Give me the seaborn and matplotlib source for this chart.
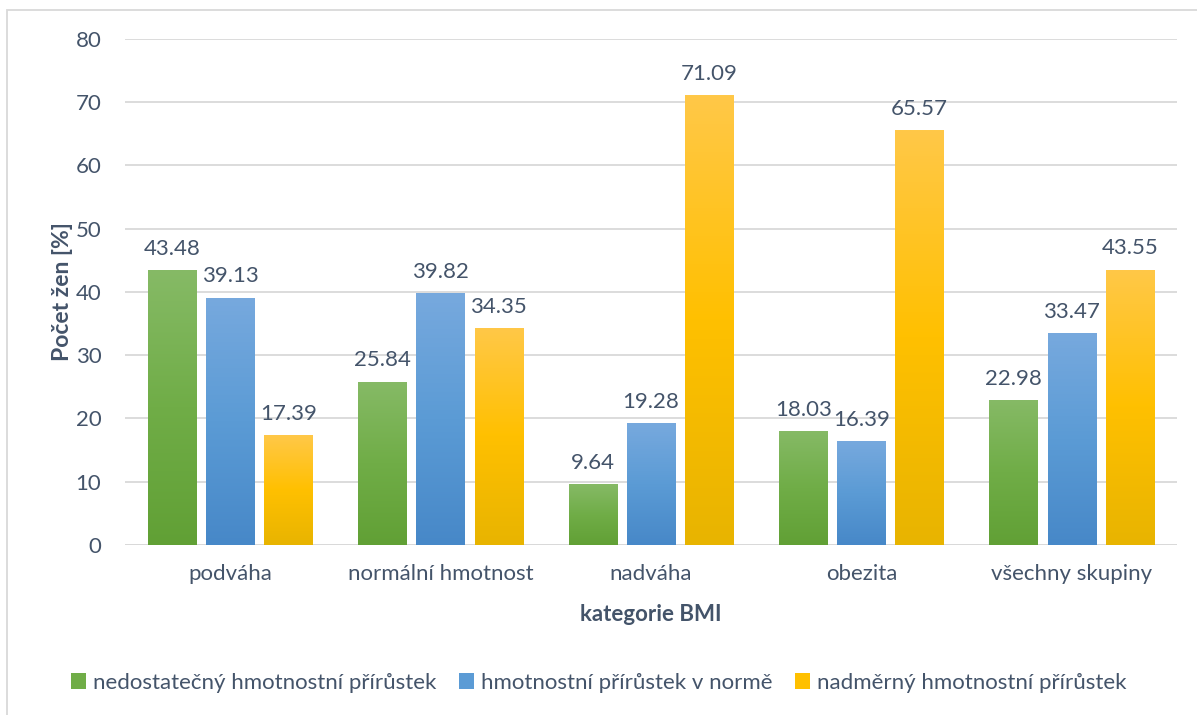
import numpy as np
import pandas as pd
import matplotlib
matplotlib.use("Agg")
import matplotlib.pyplot as plt
from matplotlib.colors import LinearSegmentedColormap
from matplotlib.patches import Rectangle, Patch
import seaborn as sns

categories = ["podváha", "normální hmotnost", "nadváha", "obezita", "všechny skupiny"]
series = ["nedostatečný hmotnostní přírůstek",
          "hmotnostní přírůstek v normě",
          "nadměrný hmotnostní přírůstek"]
nedostatecny = [43.48, 25.84, 9.64, 18.03, 22.98]
v_norme = [39.13, 39.82, 19.28, 16.39, 33.47]
nadmerny = [17.39, 34.35, 71.09, 65.57, 43.55]
y_ticks = [0, 10, 20, 30, 40, 50, 60, 70, 80]

# top / middle / bottom shades of each series' gradient fill
gradients = {
    series[0]: ["#86BA66", "#70AD47", "#61A035"],
    series[1]: ["#77A9DE", "#5B9BD5", "#4788C8"],
    series[2]: ["#FFC848", "#FFC000", "#E8B400"],
}
palette = {k: v[1] for k, v in gradients.items()}

df = pd.DataFrame({
    "kategorie": categories * 3,
    "skupina": [s for s in series for _ in categories],
    "hodnota": nedostatecny + v_norme + nadmerny,
})

sns.set_theme(style="white")
plt.rcParams["font.family"] = ["Lato", "DejaVu Sans"]
text_color = "#44546A"
grid_color = "#D9D9D9"
fs = 16

fig = plt.figure(figsize=(11.97, 7.15), dpi=100)
ax = fig.add_axes([125 / 1197, 1 - 545 / 715, 1052 / 1197, 506 / 715])

sns.barplot(data=df, x="kategorie", y="hodnota", hue="skupina",
            order=categories, hue_order=series, palette=palette,
            width=0.83, gap=0.17, ax=ax, legend=False, saturation=1)

ax.set_ylim(0, 80)
ax.set_xlim(-0.5, len(categories) - 0.5)
ax.set_yticks(y_ticks)
ax.yaxis.grid(True, color=grid_color, lw=1.3)
ax.set_axisbelow(True)
for s in ax.spines.values():
    s.set_visible(False)
ax.axhline(0, color=grid_color, lw=1.3, zorder=0.5)
ax.tick_params(axis="both", length=0, labelsize=fs, colors=text_color)
ax.tick_params(axis="y", pad=17)
ax.tick_params(axis="x", pad=14)

# vertical gradient inside every bar
for container, name in zip(ax.containers, series):
    cmap = LinearSegmentedColormap.from_list(name, gradients[name][::-1])
    grad = np.linspace(0, 1, 256).reshape(-1, 1)
    for bar in container:
        x0, y0 = bar.get_x(), bar.get_y()
        w, h = bar.get_width(), bar.get_height()
        im = ax.imshow(grad, cmap=cmap, origin="lower", aspect="auto",
                       extent=[x0, x0 + w, y0, y0 + h], zorder=bar.get_zorder())
        im.set_clip_path(bar)
        bar.set_facecolor("none")
        bar.set_edgecolor("none")
    ax.bar_label(container, fmt="%.2f", padding=8, fontsize=fs, color=text_color)

ax.set_ylim(0, 80)
ax.set_xlim(-0.5, len(categories) - 0.5)

ax.set_xlabel("kategorie BMI", fontsize=fs, fontweight="bold", color=text_color, labelpad=14)
ax.set_ylabel("Počet žen [%]", fontsize=16.5, fontweight="bold", color=text_color, labelpad=2)

handles = [Patch(facecolor=palette[s], edgecolor="none") for s in series]
fig.legend(handles, series, loc="center", bbox_to_anchor=(0.5, 1 - 683 / 715),
           ncol=3, frameon=False, fontsize=fs, labelcolor=text_color,
           handlelength=0.7, handleheight=0.7, handletextpad=0.3, columnspacing=1.0)

# chart area border
fig.patches.append(Rectangle((7 / 1197, -0.05), 1.1, 1 - 10 / 715 + 0.05,
                             transform=fig.transFigure, fill=False,
                             edgecolor="#D9D9D9", lw=1.3))

fig.savefig("out.png", dpi=100)
